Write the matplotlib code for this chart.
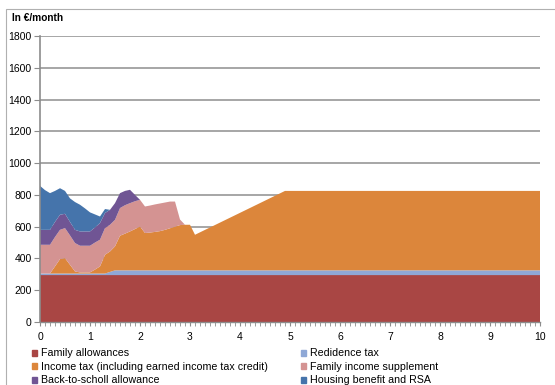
import matplotlib.pyplot as plt
from matplotlib.patches import Rectangle
from matplotlib.ticker import MultipleLocator

plt.rcParams['font.family'] = ['Liberation Sans', 'DejaVu Sans']

# Number of something on x (0..10), amounts stacked in euro per month
x = [0.0, 0.1, 0.2, 0.3, 0.4, 0.5, 0.6, 0.7, 0.8, 0.9,
     1.0, 1.1, 1.2, 1.3, 1.4, 1.5, 1.6, 1.7, 1.8, 1.9,
     2.0, 2.1, 2.2, 2.3, 2.4, 2.5, 2.6, 2.7, 2.8, 2.9,
     3.0, 3.1, 4.9, 10.0]

family_allowances = [295] * 34
residence_tax = [10] * 14 + [20] + [30] * 19
income_tax = [0, 0, 0, 45, 91, 97, 55, 13, 7, 7,
              7, 25, 45, 118, 129, 151, 218, 231, 245, 260,
              276, 235, 238, 242, 247, 255, 265, 275, 285, 287,
              287, 224, 500, 500]
family_income_supp = [181, 181, 181, 185, 184, 189, 185, 179, 168, 168,
                      168, 170, 168, 168, 168, 167, 174, 179, 178, 175,
                      168, 167, 170, 173, 174, 172, 168, 158, 35, 0,
                      0, 0, 0, 0]
back_to_school = [94, 94, 94, 95, 95, 90, 85, 83, 90, 90,
                  90, 95, 105, 95, 94, 105, 94, 90, 84, 40,
                  0, 0, 0, 0, 0, 0, 0, 0, 0, 0,
                  0, 0, 0, 0]
housing_rsa = [277, 250, 231, 195, 167, 144, 148, 175, 168, 145,
               120, 82, 41, 25, 0, 0, 0, 0, 0, 0,
               0, 0, 0, 0, 0, 0, 0, 0, 0, 0,
               0, 0, 0, 0]

labels = ['Family allowances', 'Redidence tax',
          'Income tax (including earned income tax credit)',
          'Family income supplement', 'Back-to-scholl allowance',
          'Housing benefit and RSA']
colors = ['#A94644', '#8FA8D6', '#DC863B', '#D49392', '#705594', '#4574AB']

fig = plt.figure(figsize=(5.55, 3.85), dpi=100)
ax = fig.add_axes([40 / 555, 63 / 385, 500 / 555, 286 / 385])

ax.stackplot(x, family_allowances, residence_tax, income_tax,
             family_income_supp, back_to_school, housing_rsa,
             colors=colors, linewidth=0, zorder=2)

ax.set_xlim(0, 10)
ax.set_ylim(0, 1800)
ax.yaxis.set_major_locator(MultipleLocator(200))
ax.xaxis.set_major_locator(MultipleLocator(1))
ax.xaxis.set_minor_locator(MultipleLocator(0.1))
ax.grid(axis='y', color='#A6A6A6', linewidth=1.4, zorder=1)
ax.set_axisbelow(True)

for side in ['top', 'right']:
    ax.spines[side].set_visible(False)
ax.spines['left'].set_color('#8C8C8C')
ax.spines['left'].set_linewidth(1.2)
ax.spines['bottom'].set_color('#8C8C8C')
ax.spines['bottom'].set_linewidth(1.0)
ax.tick_params(axis='y', labelsize=7.5, length=4, color='#8C8C8C', pad=2)
ax.tick_params(axis='x', which='both', labelsize=7.5, length=3,
               color='#8C8C8C', pad=4)

fig.text(12 / 555, 1 - 18 / 385, 'In €/month', fontsize=7.3,
         fontweight='bold', va='center', ha='left')

# outer chart frame (top and left edges only show)
fig.add_artist(Rectangle((6 / 555, -0.1), 1.2, (1 - 9 / 385) + 0.1,
                         transform=fig.transFigure, fill=False,
                         edgecolor='#B0B0B0', linewidth=0.8))

handles = [Rectangle((0, 0), 1, 1, color=c) for c in colors]
for hx, idx in [(32 / 555, [0, 2, 4]), (301 / 555, [1, 3, 5])]:
    fig.legend([handles[i] for i in idx], [labels[i] for i in idx],
               loc='upper left', bbox_to_anchor=(hx, 1 - 348.5 / 385),
               frameon=False, fontsize=7.7, handlelength=0.5,
               handleheight=0.5, handletextpad=0.3, labelspacing=0.32,
               borderpad=0, borderaxespad=0)

fig.savefig('out.png', dpi=100)
